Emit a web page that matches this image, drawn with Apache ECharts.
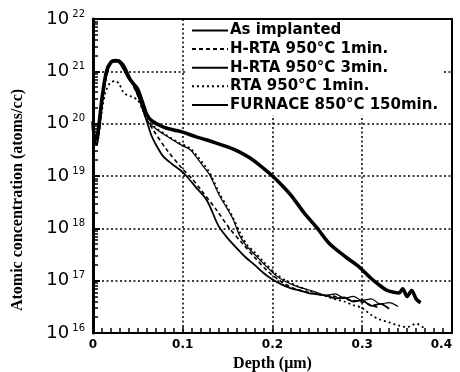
<!DOCTYPE html>
<html>
<head>
<meta charset="utf-8">
<script src="https://cdn.jsdelivr.net/npm/echarts@6/dist/echarts.min.js"></script>
<style>
  html, body { margin: 0; padding: 0; background: #fff; }
  #chart { width: 460px; height: 372px; }
</style>
</head>
<body>
<div id="chart"></div>
<script>
// depth (um) vs concentration (atoms/cc)
var seriesNames = ['As implanted', 'H-RTA 950\u00b0C 1min.', 'H-RTA 950\u00b0C 3min.', 'RTA 950\u00b0C 1min.', 'FURNACE 850\u00b0C 150min.'];

var asImplanted = [
  [0, 1.0e20], [0.002, 4.5e19], [0.004, 4e19], [0.007, 8e19], [0.01, 2.5e20], [0.014, 7e20],
  [0.018, 1.3e21], [0.022, 1.6e21], [0.027, 1.65e21], [0.032, 1.5e21], [0.036, 1.2e21],
  [0.04, 8.5e20], [0.045, 5.5e20], [0.05, 3.5e20], [0.055, 2e20], [0.06, 1.1e20],
  [0.065, 6e19], [0.07, 4e19], [0.078, 2.4e19], [0.088, 1.7e19], [0.097, 1.3e19],
  [0.104, 1e19], [0.115, 6e18], [0.127, 3.4e18], [0.14, 1.1e18], [0.15, 6.5e17],
  [0.16, 4.2e17], [0.17, 2.8e17], [0.18, 2e17], [0.19, 1.4e17], [0.2, 1.05e17],
  [0.21, 8.5e16], [0.22, 7.2e16], [0.23, 6.5e16], [0.24, 5.8e16], [0.25, 5.5e16],
  [0.26, 5.2e16], [0.27, 4.6e16], [0.28, 4.8e16], [0.29, 4e16], [0.3, 4.2e16],
  [0.31, 3.3e16], [0.32, 3.6e16], [0.33, 2.9e16]
];
var hRta1min = [
  [0, 1.0e20], [0.002, 4.5e19], [0.004, 4.2e19], [0.007, 8e19], [0.01, 2.4e20], [0.014, 6.5e20],
  [0.018, 1.2e21], [0.022, 1.5e21], [0.027, 1.55e21], [0.032, 1.4e21], [0.036, 1.1e21],
  [0.04, 8e20], [0.045, 5.2e20], [0.05, 3.4e20], [0.055, 2e20], [0.06, 1.2e20],
  [0.067, 7.6e19], [0.082, 3.2e19], [0.1, 1.35e19], [0.11, 9e18], [0.12, 5.5e18],
  [0.138, 2.2e18], [0.152, 1e18], [0.165, 5.5e17], [0.18, 2.8e17], [0.195, 1.5e17],
  [0.21, 9.5e16], [0.225, 7e16], [0.24, 6e16], [0.255, 5.4e16], [0.27, 5e16],
  [0.285, 4.3e16], [0.3, 3.9e16], [0.31, 3.4e16], [0.32, 3e16]
];
var hRta3min = [
  [0, 1.0e20], [0.002, 4.8e19], [0.004, 4.3e19], [0.007, 8.5e19], [0.01, 2.5e20], [0.014, 6.8e20],
  [0.018, 1.25e21], [0.022, 1.5e21], [0.027, 1.55e21], [0.032, 1.4e21], [0.036, 1.1e21],
  [0.04, 8e20], [0.045, 5.5e20], [0.05, 3.6e20], [0.055, 2.1e20], [0.06, 1.15e20],
  [0.07, 8e19], [0.082, 5.8e19], [0.095, 4.2e19], [0.108, 3.2e19], [0.116, 2.2e19],
  [0.122, 1.6e19], [0.13, 1.05e19], [0.141, 4.2e18], [0.15, 2.3e18], [0.156, 1.5e18],
  [0.163, 7.5e17], [0.171, 4.6e17], [0.18, 3.2e17], [0.189, 2.2e17], [0.204, 1.25e17],
  [0.215, 9.5e16], [0.227, 7.8e16], [0.249, 6e16], [0.26, 5.2e16], [0.27, 5.6e16],
  [0.28, 4.6e16], [0.29, 5e16], [0.3, 4.2e16], [0.31, 4.5e16], [0.32, 3.6e16], [0.33, 3.8e16], [0.34, 3.2e16]
];
var rta1min = [
  [0, 9e19], [0.002, 4.5e19], [0.004, 4e19], [0.007, 7e19], [0.01, 1.8e20], [0.014, 4e20],
  [0.019, 6e20], [0.025, 6.5e20], [0.029, 5.8e20], [0.033, 4.2e20], [0.038, 3.5e20],
  [0.043, 3.3e20], [0.05, 2.8e20], [0.055, 1.9e20], [0.06, 1.2e20], [0.07, 8.3e19],
  [0.082, 6e19], [0.095, 4.4e19], [0.108, 3.4e19], [0.116, 2.4e19], [0.122, 1.8e19],
  [0.13, 1.15e19], [0.141, 4.6e18], [0.15, 2.5e18], [0.156, 1.6e18], [0.165, 7.5e17],
  [0.172, 4.8e17], [0.18, 3.5e17], [0.19, 2.3e17], [0.205, 1.3e17], [0.215, 1e17],
  [0.227, 8e16], [0.24, 6.5e16], [0.25, 5.6e16], [0.26, 5e16], [0.27, 4.4e16],
  [0.28, 4e16], [0.29, 3.4e16], [0.3, 3e16], [0.31, 2.2e16], [0.32, 1.8e16],
  [0.33, 1.6e16], [0.34, 1.4e16], [0.35, 1.3e16], [0.36, 1.5e16], [0.37, 1.2e16]
];
var furnace = [
  [0, 1.1e20], [0.002, 5e19], [0.005, 6e19], [0.01, 3e20], [0.015, 1e21], [0.02, 1.5e21],
  [0.025, 1.6e21], [0.03, 1.5e21], [0.035, 1.1e21], [0.04, 7.5e20], [0.045, 5.8e20],
  [0.05, 4.5e20], [0.055, 2.6e20], [0.06, 1.5e20], [0.065, 1.15e20], [0.078, 8.7e19],
  [0.09, 7.6e19], [0.1, 6.9e19], [0.115, 5.6e19], [0.133, 4.5e19], [0.15, 3.6e19],
  [0.163, 2.9e19], [0.175, 2.2e19], [0.188, 1.5e19], [0.2, 1e19], [0.211, 6.5e18],
  [0.222, 4e18], [0.235, 2e18], [0.249, 1.05e18], [0.263, 5.2e17], [0.282, 2.8e17],
  [0.297, 1.8e17], [0.31, 1.1e17], [0.32, 8e16], [0.327, 6.6e16], [0.335, 6e16],
  [0.341, 5.8e16], [0.345, 7e16], [0.35, 5e16], [0.355, 6.5e16], [0.36, 4.5e16], [0.365, 3.8e16]
];
var seriesData = [asImplanted, hRta1min, hRta3min, rta1min, furnace];
var lineTypes = ['solid', [4, 3], 'solid', [2, 3], 'solid'];
var lineWidths = [1.8, 1.6, 1.2, 1.8, 3.6];

var chart = echarts.init(document.getElementById('chart'));

var gridLine = { show: true, lineStyle: { color: '#000', width: 1.5, type: [2, 2.5] } };

var option = {
  animation: false,
  backgroundColor: '#fff',
  grid: {
    left: 93, right: 8, top: 19, bottom: 39, outerBoundsMode: 'none',
    show: true, borderColor: '#000', borderWidth: 2
  },
  legend: {
    left: 187, top: 20,
    padding: [3, 4],
    backgroundColor: '#fff',
    itemWidth: 36, itemHeight: 14, itemGap: 3.6,
    itemStyle: { opacity: 0 },
    textStyle: { fontFamily: 'DejaVu Sans', fontSize: 15, fontWeight: 'bold', color: '#000', padding: [0, 0, 0, -3] },
    data: seriesNames
  },
  xAxis: {
    type: 'value', min: 0, max: 0.4, interval: 0.1,
    name: 'Depth (\u03bcm)', nameLocation: 'middle', nameGap: 23,
    nameTextStyle: { fontFamily: 'Liberation Serif', fontWeight: 'bold', fontSize: 16, color: '#000' },
    axisLine: { lineStyle: { color: '#000', width: 2 } },
    axisTick: { inside: true, length: 6, lineStyle: { color: '#000', width: 1.5 } },
    minorTick: { show: true, splitNumber: 10, length: 5, lineStyle: { color: '#000', width: 1.5 } },
    axisLabel: {
      margin: 6, fontFamily: 'DejaVu Sans', fontSize: 12, fontWeight: 'bold', color: '#000',
      alignMaxLabel: 'right',
      formatter: function (v) { return v === 0 ? '0' : v.toFixed(1); }
    },
    splitLine: gridLine
  },
  yAxis: {
    type: 'log', logBase: 10, min: 1e16, max: 1e22,
    name: 'Atomic concentration (atoms/cc)', nameLocation: 'middle', nameGap: 67,
    nameTextStyle: {
      fontFamily: 'Liberation Serif', fontWeight: 'bold', fontSize: 16, color: '#000',
      padding: [0, 48, 0, 0]
    },
    axisLine: { lineStyle: { color: '#000', width: 3 } },
    axisTick: { inside: true, length: 7, lineStyle: { color: '#000', width: 2 } },
    minorTick: { show: true, splitNumber: 9, length: 5, lineStyle: { color: '#000', width: 1.5 } },
    axisLabel: {
      margin: 8, color: '#000',
      formatter: function (v) {
        var e = Math.round(Math.log(v) / Math.LN10);
        return '{b|10}{s|' + e + '}';
      },
      rich: {
        b: { fontFamily: 'DejaVu Sans', fontSize: 18, color: '#000' },
        s: { fontFamily: 'DejaVu Sans', fontSize: 10, color: '#000', padding: [0, 0, 10, 3] }
      }
    },
    splitLine: gridLine
  },
  series: seriesNames.map(function (name, i) {
    return {
      name: name,
      type: 'line',
      data: seriesData[i],
      symbol: 'none',
      smooth: 0.3,
      lineStyle: { color: '#000', width: lineWidths[i], type: lineTypes[i] },
      itemStyle: { color: '#000' }
    };
  })
};
chart.setOption(option);
</script>
</body>
</html>
